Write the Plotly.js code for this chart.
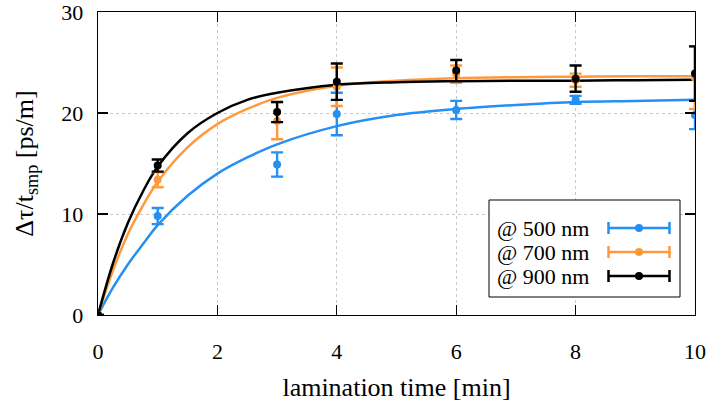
<!DOCTYPE html>
<html><head><meta charset="utf-8">
<script src="https://cdn.plot.ly/plotly-3.0.1.min.js"></script>
<style>
html,body{margin:0;padding:0;background:#fff}
#c svg text{font-family:'Liberation Serif','Times New Roman',serif !important;}
</style>
</head><body><div id="c" style="width:711px;height:408px"></div>
<script>
// measured data
var tData = [0, 1, 3, 4, 6, 8, 10];
var y500 = [0, 9.8, 14.9, 19.9, 20.3, 21.3, 19.8];
var e500 = [0, 0.8, 1.2, 2.1, 0.9, 0.4, 1.4];
var y700 = [0, 13.4, 19.2, 22.6, 23.85, 23.25, 23.5];
var e700 = [0, 0.75, 1.8, 1.9, 0.85, 0.65, 3.1];
var y900 = [0, 14.8, 20.1, 23.1, 24.2, 23.4, 23.9];
var e900 = [0, 0.6, 1.0, 1.8, 1.05, 1.3, 2.7];
// fitted curves
var tFit = [0, 0.25, 0.5, 0.75, 1, 1.5, 2, 2.5, 3, 4, 5, 6, 7, 8, 9, 10];
var f500 = [0, 2.7, 5.0, 7.0, 8.9, 11.8, 14.0, 15.6, 16.9, 18.7, 19.8, 20.4, 20.8, 21.1, 21.2, 21.3];
var f700 = [0, 4.4, 8.0, 10.8, 13.2, 16.6, 18.9, 20.4, 21.5, 22.7, 23.2, 23.45, 23.55, 23.6, 23.65, 23.65];
var f900 = [0, 5.1, 9.1, 12.2, 14.7, 18.0, 20.0, 21.3, 22.0, 22.8, 23.05, 23.15, 23.2, 23.2, 23.25, 23.3];
var xTicks = [0, 2, 4, 6, 8, 10];
var yTicks = [0, 10, 20, 30];
var labels = ['@ 500 nm', '@ 700 nm', '@ 900 nm'];
var colors = ['#2590f2', '#ff9a3c', '#000000'];

var PL = 98, PR = 695, PT = 12, PB = 315;
var series = [[y500, e500, f500], [y700, e700, f700], [y900, e900, f900]];
var traces = [];
series.forEach(function (s, i) {
  traces.push({x: tFit, y: s[2], mode: 'lines', line: {color: colors[i], width: 2.5, shape: 'spline'}});
});
series.forEach(function (s, i) {
  traces.push({x: tData, y: s[0], mode: 'markers', marker: {color: colors[i], size: 8},
    error_y: {type: 'data', array: s[1], visible: true, color: colors[i], thickness: 2.4, width: 6}});
});

// hand-made legend (symbols to the right of the labels) on a pixel overlay axis
traces.push({x: [489, 680, 680, 489, 489], y: [200, 200, 297, 297, 200], xaxis: 'x2', yaxis: 'y2',
  mode: 'lines', fill: 'toself', fillcolor: '#ffffff', line: {color: '#000', width: 1}});
var rowsY = [228, 252, 276];
var annArr = [];
labels.forEach(function (lab, i) {
  traces.push({x: [639], y: [rowsY[i]], xaxis: 'x2', yaxis: 'y2', mode: 'markers',
    marker: {color: colors[i], size: 8},
    error_x: {type: 'data', array: [30.5], visible: true, color: colors[i], thickness: 2.5, width: 6}});
  annArr.push({xref: 'x2', yref: 'y2', x: 495, y: rowsY[i], xanchor: 'left', yanchor: 'middle',
    text: lab, showarrow: false});
});

var layout = {
  width: 711, height: 408,
  margin: {l: PL, r: 711 - PR, t: PT, b: 408 - PB},
  paper_bgcolor: '#fff', plot_bgcolor: '#fff',
  showlegend: false,
  font: {family: 'Liberation Serif', size: 22, color: '#000'},
  xaxis: {range: [0, 10], tickvals: xTicks, showline: true, linecolor: '#000', linewidth: 1.3, mirror: 'ticks',
    ticks: 'inside', ticklen: 10, tickwidth: 1.3, tickcolor: '#000', showgrid: true, gridcolor: '#c8c8c8',
    griddash: 'dot', zeroline: false, automargin: false, ticklabelstandoff: 16,
    title: {text: 'lamination time [min]', standoff: 15}},
  yaxis: {range: [0, 30], tickvals: yTicks, showline: true, linecolor: '#000', linewidth: 1.3, mirror: 'ticks',
    ticks: 'inside', ticklen: 10, tickwidth: 1.3, tickcolor: '#000', showgrid: true, gridcolor: '#c8c8c8',
    griddash: 'dot', zeroline: false, automargin: false, ticklabelstandoff: 9, ticklabeloverflow: 'allow',
    title: {text: 'Δτ/t<sub>smp</sub> [ps/m]', standoff: 20}},
  xaxis2: {overlaying: 'x', range: [PL, PR], visible: false},
  yaxis2: {overlaying: 'y', range: [PB, PT], visible: false},
  annotations: annArr
};
Plotly.newPlot('c', traces, layout, {staticPlot: true, displayModeBar: false});
</script></body></html>
